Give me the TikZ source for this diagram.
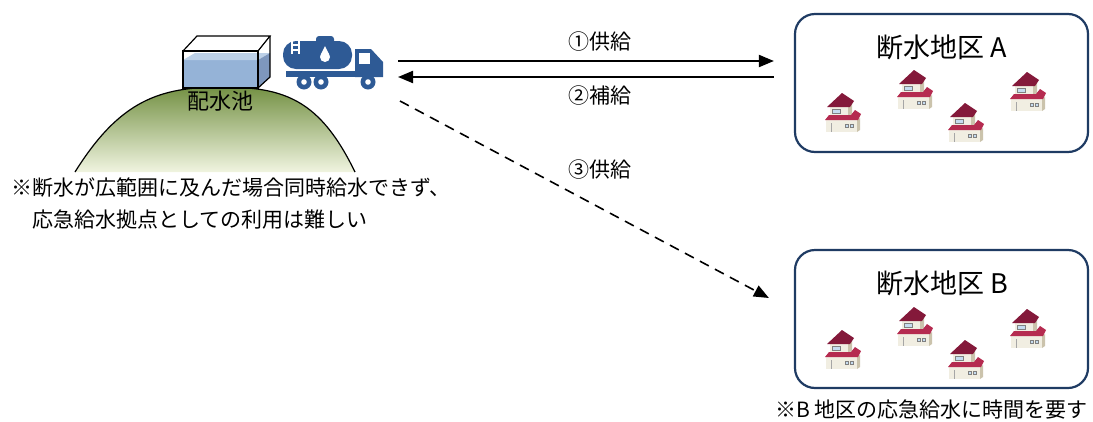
\documentclass[tikz,border=0pt]{standalone}
\usepackage{fontspec}
\setmainfont{Noto Sans CJK JP}
\usetikzlibrary{arrows.meta}

\definecolor{truckblue}{HTML}{2E5A95}
\definecolor{boxnavy}{HTML}{1F3B63}
\definecolor{hilltop}{RGB}{116,145,68}
\definecolor{hillbase}{RGB}{240,244,224}
\definecolor{waterfront}{HTML}{95B3D7}
\definecolor{watersurf}{HTML}{BCD0E7}
\definecolor{waterside}{HTML}{7E97BD}
\definecolor{roofdark}{HTML}{84193A}
\definecolor{roofred}{HTML}{B52B50}
\definecolor{wallcream}{HTML}{F1EEE2}
\definecolor{wallshade}{HTML}{CBC3AC}
\definecolor{pane}{HTML}{C6DCF0}

\tikzset{
  cottage/.pic={
    % lower floor
    \fill[wallcream] (1,27) rectangle (32,39);
    \fill[wallshade] (32,27) -- (35,25) -- (35,37) -- (32,39) -- cycle;
    \draw[gray!70, line width=0.5pt] (6,30) -- (6,39);
    \fill[pane] (20,31) rectangle (23.5,34) (25,31) rectangle (28.5,34);
    \draw[gray, line width=0.4pt] (20,31) rectangle (23.5,34) (25,31) rectangle (28.5,34);
    % upper floor
    \fill[wallcream] (5,13) rectangle (23,23);
    \fill[wallshade] (23,13) -- (27,10) -- (27,21) -- (23,23) -- cycle;
    \fill[pane] (7,16.5) rectangle (15,20);
    \draw[gray, line width=0.4pt] (7,16.5) rectangle (15,20);
    % roofs
    \fill[roofred] (0,27) -- (4,22) -- (26,22) -- (30,17) -- (36,21) -- (33,27) -- cycle;
    \fill[roofdark] (2,14) -- (17,0) -- (29,8) -- (25,14) -- cycle;
  },
  district/.style={draw=boxnavy, line width=2.2pt, rounded corners=20pt,
    minimum width=293pt, minimum height=138pt, inner sep=0pt},
  flow/.style={line width=2pt, -{Triangle[length=15pt,width=12pt]}},
  label/.style={font=\fontsize{21}{25}\selectfont},
  title/.style={font=\fontsize{27}{30}\selectfont},
}

\begin{document}
\begin{tikzpicture}[x=1pt,y=-1pt]
\useasboundingbox (0,0) rectangle (1093,421);

% hill and reservoir
\shade[top color=hilltop, bottom color=hillbase]
  (75,172) .. controls (120,100) and (160,87) .. (222,87)
  .. controls (285,87) and (320,100) .. (355,172) -- cycle;
\draw[line width=1.2pt]
  (75,172) .. controls (120,100) and (160,87) .. (222,87)
  .. controls (285,87) and (320,100) .. (355,172);

\fill[white] (183,51) -- (197,36) -- (270,36) -- (270,77) -- (258,88) -- (183,88) -- cycle;
\fill[waterfront] (183,60) rectangle (258,88);
\fill[watersurf] (183,60) -- (195,53) -- (270,53) -- (258,60) -- cycle;
\fill[waterside] (258,60) -- (270,53) -- (270,77) -- (258,88) -- cycle;
\draw[line width=1.2pt] (183,51) rectangle (258,88);
\draw[line width=1.2pt] (183,51) -- (197,36) -- (270,36) -- (258,51);
\draw[line width=1.2pt] (270,36) -- (270,77) -- (258,88);

\node[font=\fontsize{22}{26}\selectfont] (pond) at (220,101) {配水池};

% water truck
\fill[truckblue, rounded corners=13pt] (283,41) rectangle (352,69);
\fill[truckblue, rounded corners=3pt] (316,36) rectangle (334,46);
\draw[white, line width=1.6pt] (292,39) -- (292,54) (299,39) -- (299,54)
  (292,45) -- (299,45) (292,50) -- (299,50);
\fill[white] (325,57) circle (5);
\fill[white] (325,46) -- (320.4,55.5) -- (329.6,55.5) -- cycle;
\fill[truckblue] (355,49) -- (371,49) -- (383,62) -- (383,77) -- (355,77) -- cycle;
\fill[white] (359,53) rectangle (370,64);
\fill[truckblue] (286,71) rectangle (383,77);
\foreach \wx in {304,321,368} {
  \fill[truckblue] (\wx,82) circle (7.5);
  \fill[white] (\wx,82) circle (2.8);
}

\node[font=\fontsize{21}{32}\selectfont, align=left, anchor=north west, inner sep=0pt]
  (note) at (11,178) {※断水が広範囲に及んだ場合同時給水できず、\\\hspace{1em}応急給水拠点としての利用は難しい};

% districts
\node[district] (areaA) at (941.5,83) {};
\node[title] (titleA) at (942,47) {断水地区 A};
\node[district] (areaB) at (941.5,319) {};
\node[title] (titleB) at (942,283) {断水地区 B};

\foreach \hx/\hy in {825/93, 897/70, 948/103, 1010/72} {
  \pic at (\hx,\hy) {cottage};
  \pic at (\hx,\hy+237) {cottage};
}

\node[font=\fontsize{21}{25}\selectfont, anchor=east, inner sep=0pt] (noteB) at (1088,410) {※B 地区の応急給水に時間を要す};

% supply routes
\coordinate (outA) at (398,61);
\coordinate (inA) at (398,77);
\coordinate (outB) at (400,101);

\draw[flow, shorten >=20pt] (outA) -- (outA -| areaA.west);
\draw[flow, shorten <=20pt] (inA -| areaA.west) -- (inA);
\draw[flow, line width=1.6pt, dash pattern=on 10pt off 7pt] (outB) -- ([shift={(-25,-21)}]areaB.west);

\node[label] (supply1) at (600,42) {①供給};
\node[label] (refill2) at (600,96) {②補給};
\node[label] (supply3) at (600,170) {③供給};
\end{tikzpicture}
\end{document}
